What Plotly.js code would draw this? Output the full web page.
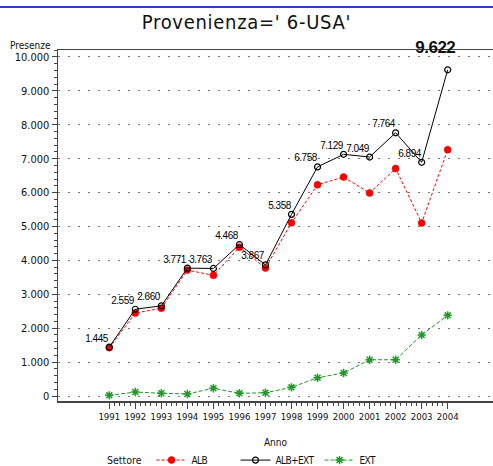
<!DOCTYPE html>
<html>
<head>
<meta charset="utf-8">
<script src="https://cdn.plot.ly/plotly-3.0.1.min.js"></script>
<style>
html,body{margin:0;padding:0;background:#fff;}
#chart{width:493px;height:466px;}
svg text{font-stretch:condensed;}
.gtitle{letter-spacing:0.7px;}
.legendtext{letter-spacing:-0.6px;}
.annotation-text.vlabel{letter-spacing:-0.5px;}
</style>
</head>
<body>
<div id="chart"></div>
<script>
// ---- data ----
const years = [1991,1992,1993,1994,1995,1996,1997,1998,1999,2000,2001,2002,2003,2004];
const alb     = [1425,2445,2590,3715,3560,4390,3775,5110,6230,6460,5990,6710,5105,7265];
const albExt  = [1445,2559,2660,3771,3763,4468,3867,5358,6758,7129,7049,7764,6894,9622];
const ext     = [20,118,80,60,227,80,97,256,540,680,1070,1070,1800,2380];
const seriesNames = ['ALB','ALB+EXT','EXT'];
const yTickVals = [0,1000,2000,3000,4000,5000,6000,7000,8000,9000,10000];

const fmt = v => String(v).replace(/\B(?=(\d{3})+(?!\d))/g, '.');
const narrow = '"DejaVu Sans", sans-serif';
const labelFont = '"Liberation Sans", Arial, sans-serif';

const maxIdx = albExt.indexOf(Math.max(...albExt));

// minor ticks on x only between first and last year
const xMinor = [];
for (let i = 0; i < years.length - 1; i++) {
  for (let k = 1; k < 5; k++) xMinor.push(years[i] + k * 0.2);
}

const traces = [
  {
    x: years, y: alb, name: seriesNames[0], type: 'scatter', mode: 'lines+markers',
    line: {color: '#ff0000', width: 1, dash: '3px,2px'},
    marker: {color: '#ff0000', size: 7, symbol: 'circle', line: {color: '#dd0000', width: 0.5}}
  },
  {
    x: years, y: albExt, name: seriesNames[1], type: 'scatter', mode: 'lines+markers',
    line: {color: '#000000', width: 1},
    marker: {color: '#000000', size: 6, symbol: 'circle-open', line: {color: '#000', width: 1.2}}
  },
  {
    x: years, y: ext, name: seriesNames[2], type: 'scatter', mode: 'lines+markers',
    line: {color: '#1f9a26', width: 1, dash: '4px,2px'},
    marker: {color: '#1f9a26', size: 7, symbol: 'asterisk-open', line: {color: '#1f9a26', width: 1.5}}
  }
];

// value labels for ALB+EXT (the maximum is drawn big and bold)
const annotations = years.map((yr, i) => i === maxIdx ? {
  x: yr, y: albExt[i], xref: 'x', yref: 'y',
  text: '<b>' + fmt(albExt[i]) + '</b>', showarrow: false,
  xanchor: 'center', yanchor: 'bottom', xshift: -12, yshift: 11,
  font: {family: labelFont, size: 17, color: '#111'}
} : {
  x: yr, y: albExt[i], xref: 'x', yref: 'y',
  text: fmt(albExt[i]), showarrow: false, borderpad: 0,
  xanchor: 'right', yanchor: 'bottom', xshift: 1, yshift: 2.5,
  font: {family: labelFont, size: 10, color: '#000'}
});
annotations.push({
  x: 0, xref: 'paper', xanchor: 'right', xshift: -5,
  y: 1, yref: 'paper', yanchor: 'bottom', yshift: -3,
  text: 'Presenze', showarrow: false,
  font: {family: narrow, size: 10, color: '#111'}
});
annotations.push({
  x: 0.108, xref: 'paper', xanchor: 'left',
  y: -0.168, yref: 'paper', yanchor: 'middle',
  text: 'Settore', showarrow: false,
  font: {family: narrow, size: 10.5, color: '#111'}
});

const layout = {
  width: 493, height: 466,
  margin: {l: 58, r: 0, t: 50, b: 65},
  paper_bgcolor: '#fff', plot_bgcolor: '#fff',
  showlegend: true,
  title: {
    text: "Provenienza=' 6-USA'",
    font: {family: narrow, size: 20, color: '#111'},
    x: 0.5, xref: 'container', y: 0.953, yref: 'container', xanchor: 'center', yanchor: 'middle'
  },
  xaxis: {
    range: [1989.03, 2005.74], automargin: false,
    tickvals: years, ticktext: years.map(String), tickangle: 0,
    ticks: 'outside', ticklen: 6, tickwidth: 1, tickcolor: '#444',
    minor: {tickvals: xMinor, ticks: 'outside', ticklen: 3, tickwidth: 1, tickcolor: '#444', showgrid: false},
    showline: true, linecolor: '#444', linewidth: 1.5, mirror: true,
    showgrid: false, zeroline: false,
    tickfont: {family: narrow, size: 9.5, color: '#111'},
    title: {text: 'Anno', font: {family: narrow, size: 10, color: '#111'}, standoff: 18}
  },
  yaxis: {
    range: [-147, 10206], automargin: false,
    tickvals: yTickVals, ticktext: yTickVals.map(fmt),
    ticks: 'outside', ticklen: 5, tickwidth: 1, tickcolor: '#444',
    minor: {dtick: 200, tick0: 0, ticks: 'outside', ticklen: 3, tickwidth: 1, tickcolor: '#444', showgrid: false},
    showline: true, linecolor: '#444', linewidth: 1.5,
    showgrid: true, gridcolor: '#777', gridwidth: 1, griddash: '2px,8px',
    zeroline: false,
    tickfont: {family: narrow, size: 11, color: '#111'}
  },
  legend: {
    orientation: 'h', x: 0.215, xanchor: 'left', y: -0.184, yanchor: 'bottom',
    font: {family: narrow, size: 10, color: '#111'},
    itemwidth: 30, entrywidth: 39, entrywidthmode: 'pixels',
    bgcolor: 'rgba(0,0,0,0)'
  },
  annotations: annotations,
  shapes: [
    {type: 'line', xref: 'paper', yref: 'paper', x0: -0.2, x1: 1.1, y0: 1.1225, y1: 1.1225,
     line: {color: '#2b3fd6', width: 2}}
  ]
};

Plotly.newPlot('chart', traces, layout, {displayModeBar: false, staticPlot: true}).then(gd => {
  gd.querySelectorAll('.annotation-text').forEach(t => {
    if (/^\d\.\d{3}$/.test(t.textContent)) t.classList.add('vlabel');
  });
  // the legend row sits a little lower than Plotly lets it go inside the page
  const lg = gd.querySelector('.legend');
  if (lg) {
    const m = /translate\(\s*([-\d.]+)[ ,]+([-\d.]+)\s*\)/.exec(lg.getAttribute('transform') || '');
    if (m) lg.setAttribute('transform', 'translate(' + m[1] + ',' + (parseFloat(m[2]) + 9) + ')');
  }
});
</script>
</body>
</html>
